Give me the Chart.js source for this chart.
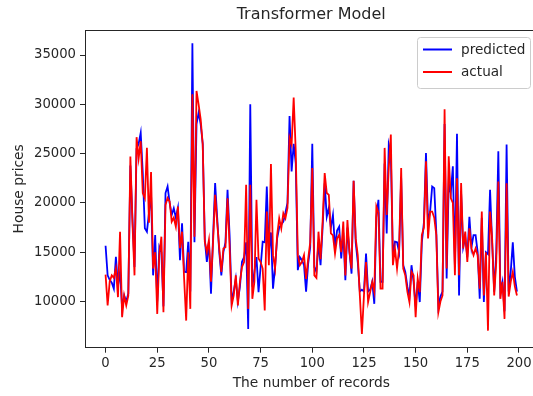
<!DOCTYPE html>
<html>
<head>
<meta charset="utf-8">
<script src="https://cdn.jsdelivr.net/npm/chart.js@4.4.0/dist/chart.umd.min.js"></script>
<style>
  html, body { margin: 0; padding: 0; background: #fff; overflow: hidden; }
  #wrap { width: 533px; height: 396px; overflow: hidden; }
</style>
</head>
<body>
<div id="wrap"><canvas id="grafico" width="560" height="396"></canvas></div>
<script>
// valores (registros 0..199)
const predicted = [
  15650, 12650, 12200, 11900, 11300, 14530, 11600, 13000, 9300, 10600,
  10000, 10800, 23800, 18500, 13500, 25500, 26000, 27110, 23000, 17420,
  17080, 19000, 21000, 12650, 16740, 10000, 15540, 15000, 9500, 21000,
  21670, 20000, 18780, 19460, 18500, 19500, 14190, 17930, 13000, 12990,
  16060, 11000, 36190, 16000, 28000, 29150, 28000, 26000, 16300, 14020,
  16060, 10780, 16500, 22010, 18500, 15000, 12650, 15000, 16000, 21330,
  16740, 10000, 11000, 12300, 10000, 11500, 14020, 14500, 16000, 7220,
  30000, 11500, 13000, 14500, 10950, 13500, 16060, 16000, 21670, 15000,
  17000, 11300, 13500, 16400, 17500, 17800, 18100, 19000, 20000, 28810,
  23200, 26000, 24000, 13170, 14500, 14200, 13680, 11000, 13800, 15500,
  25990, 13500, 13000, 16000, 13680, 17500, 22000, 18600, 19500, 17500,
  18780, 15500, 17200, 17590, 14360, 17000, 12150, 17500, 15000, 12820,
  22250, 16000, 14000, 11000, 11200, 11000, 14870, 11000, 11200, 12000,
  9760, 18500, 20310, 12000, 12000, 24000, 16910, 25920, 25000, 14500,
  16060, 16000, 15000, 22500, 13680, 13000, 11500, 10500, 13680, 12000,
  9500, 12000, 9940, 16000, 18000, 25070, 18000, 19120, 21670, 21500,
  17000, 9500, 10500, 11000, 28000, 12320, 22000, 21000, 23710, 13500,
  27010, 10610, 21000, 15500, 16500, 14500, 18600, 15500, 16740, 16740,
  15000, 10270, 18500, 9940, 15000, 14800, 21330, 16000, 11000, 15000,
  25240, 11000, 12000, 9000, 25920, 11000, 13000, 16000, 12500, 11000
];

const actual = [
  12725, 9600, 12000, 12650, 12400, 13340, 10440, 17080, 8400, 10600,
  9600, 10600, 24700, 18000, 12650, 26670, 24500, 26260, 21000, 20480,
  25580, 18000, 23130, 13340, 15000, 8740, 14700, 16570, 8910, 19800,
  20500, 20140, 18100, 18500, 17590, 19630, 15400, 17080, 12320, 8060,
  15000, 9250, 31020, 16570, 31360, 30000, 28500, 25920, 16060, 15000,
  16230, 12000, 16000, 20820, 18000, 15380, 13000, 15380, 15500, 20480,
  15500, 9590, 10610, 12650, 9590, 12000, 13500, 14000, 21840, 9250,
  21840, 10270, 12000, 20310, 14360, 14000, 13340, 9080, 19120, 13680,
  23950, 14700, 13340, 16740, 18440, 17420, 18950, 18440, 19500, 26600,
  25900, 30680, 25240, 14700, 13680, 14020, 14700, 12300, 14300, 16000,
  23540, 12650, 12400, 17080, 14300, 18100, 23030, 21000, 20820, 16910,
  16700, 14870, 16400, 16740, 15000, 18100, 12650, 18270, 15000, 13340,
  22250, 16400, 14700, 10610, 6700, 10610, 14000, 9940, 10950, 11970,
  11000, 19630, 19000, 11300, 11300, 25580, 18780, 23540, 26940, 13680,
  15380, 13340, 15380, 23540, 13340, 12650, 11000, 9940, 13000, 12650,
  8400, 12320, 10950, 16740, 17500, 24220, 16400, 19120, 19120, 18500,
  16740, 8910, 10000, 10610, 29490, 13340, 24730, 20480, 20000, 12650,
  22500, 12650, 22010, 15380, 17080, 14020, 17420, 15380, 14700, 15380,
  14700, 11300, 19120, 10610, 15000, 7040, 19120, 16400, 10610, 14000,
  22180, 10270, 12000, 8230, 22000, 10500, 12000, 13000, 11500, 10600
];

const xTicks = [0, 25, 50, 75, 100, 125, 150, 175, 200];
const yTicks = [10000, 15000, 20000, 25000, 30000, 35000];

Chart.defaults.font.family = "'DejaVu Sans', sans-serif";
Chart.defaults.color = '#262626';

// moldura de cima e legenda dentro do gráfico
const moldura = {
  id: 'moldura',
  afterDraw(chart) {
    const { ctx, chartArea } = chart;
    ctx.save();
    ctx.strokeStyle = '#262626';
    ctx.lineWidth = 1;
    ctx.beginPath();
    ctx.moveTo(chartArea.left, chartArea.top + 0.5);
    ctx.lineTo(chartArea.right, chartArea.top + 0.5);
    ctx.stroke();

    const w = 113, h = 51;
    const x = 417;
    const y = chartArea.top + 7;
    ctx.fillStyle = 'rgba(255,255,255,0.8)';
    ctx.strokeStyle = '#cccccc';
    ctx.beginPath();
    ctx.roundRect(x + 0.5, y + 0.5, w, h, 3);
    ctx.fill();
    ctx.stroke();

    ctx.font = "13.6px 'DejaVu Sans'";
    ctx.textBaseline = 'middle';
    chart.data.datasets.forEach((ds, i) => {
      const ly = y + 12.5 + i * 22.5;
      ctx.strokeStyle = ds.borderColor;
      ctx.lineWidth = 2;
      ctx.beginPath();
      ctx.moveTo(x + 6, ly);
      ctx.lineTo(x + 35, ly);
      ctx.stroke();
      ctx.fillStyle = '#262626';
      ctx.fillText(ds.label, x + 44, ly + 0.5);
    });
    ctx.restore();
  }
};

const ctx = document.getElementById('grafico').getContext('2d');
new Chart(ctx, {
  type: 'line',
  data: {
    datasets: [
      {
        label: 'predicted',
        data: predicted.map((v, i) => ({ x: i, y: v })),
        borderColor: '#0000ff',
        borderWidth: 1.8,
        pointRadius: 0,
        tension: 0,
        order: 1
      },
      {
        label: 'actual',
        data: actual.map((v, i) => ({ x: i, y: v })),
        borderColor: '#ff0000',
        borderWidth: 1.8,
        pointRadius: 0,
        tension: 0,
        order: 0
      }
    ]
  },
  options: {
    responsive: false,
    animation: false,
    events: [],
    layout: { padding: { left: 0, top: 0, right: 22.5, bottom: 0 } },
    plugins: {
      legend: { display: false },
      tooltip: { enabled: false },
      title: {
        display: true,
        fullSize: false,
        text: 'Transformer Model',
        color: '#262626',
        font: { size: 16, weight: 'normal' },
        padding: { top: 5.5, bottom: 5.3 }
      }
    },
    scales: {
      x: {
        type: 'linear',
        min: -9.95,
        max: 208.95,
        afterBuildTicks: s => { s.ticks = xTicks.map(v => ({ value: v })); },
        afterFit: s => { s.height = 48.3; },
        ticks: { font: { size: 13.2 }, padding: 3, maxRotation: 0, callback: v => v },
        grid: { drawOnChartArea: false, drawTicks: true, tickLength: 5, color: '#262626' },
        border: { display: true, color: '#262626', width: 1 },
        title: {
          display: true,
          text: 'The number of records',
          font: { size: 13.8 },
          padding: { top: 0, bottom: 4.5 }
        }
      },
      y: {
        min: 5310,
        max: 37540,
        afterBuildTicks: s => { s.ticks = yTicks.map(v => ({ value: v })); },
        afterFit: s => { s.width = 85; },
        ticks: { font: { size: 13.2 }, padding: 4, callback: v => v },
        grid: { drawOnChartArea: false, drawTicks: true, tickLength: 5, color: '#262626' },
        border: { display: true, color: '#262626', width: 1 },
        title: {
          display: true,
          text: 'House prices',
          font: { size: 13.8 },
          padding: { top: 11.5, bottom: 0 }
        }
      }
    }
  },
  plugins: [moldura]
});
</script>
</body>
</html>
